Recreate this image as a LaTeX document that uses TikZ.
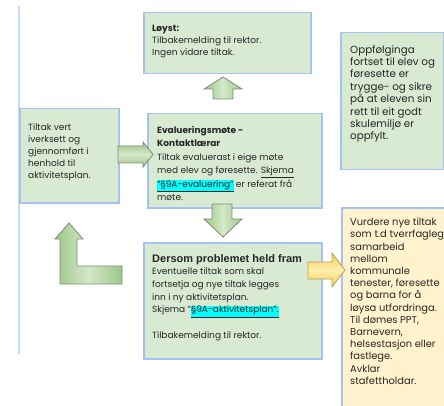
\documentclass[tikz,border=0pt]{standalone}
\usepackage{fontspec}
\setmainfont{Poppins}
\newfontfamily\headfont{Liberation Sans}
\usepackage{xcolor}
\definecolor{boxfill}{HTML}{D9EAD3}
\definecolor{boxline}{HTML}{A4C2F4}
\definecolor{yelfill}{HTML}{FFF2CC}
\definecolor{sideline}{HTML}{C9DAF8}
\definecolor{txtc}{HTML}{262626}
\definecolor{arrline}{HTML}{7A8F74}
\definecolor{garrA}{HTML}{9DC788}
\definecolor{garrB}{HTML}{D3E8C9}
\definecolor{yarrA}{HTML}{F2C94C}
\definecolor{yarrB}{HTML}{FFEFB0}
\definecolor{yarrline}{HTML}{B8A05A}
\definecolor{hlcyan}{HTML}{00FFFF}
\newcommand\hlc[1]{{\setlength{\fboxsep}{0pt}\colorbox{hlcyan}{\underline{#1}}}}
\begin{document}
\begin{tikzpicture}[x=1pt,y=-1pt,
  gbox/.style={draw=boxline, line width=1.5pt, fill=boxfill, rectangle, inner sep=0pt, anchor=north west},
  ybox/.style={draw=boxline, line width=1.5pt, fill=yelfill, rectangle, inner sep=0pt, anchor=north west},
  txt/.style={align=left, inner sep=0pt, anchor=north west, text=txtc, font=\fontsize{9}{12}\selectfont},
  gvert/.style={draw=arrline, line width=0.8pt, left color=garrA, right color=garrA, middle color=garrB},
  ghor/.style={draw=arrline, line width=0.8pt, top color=garrA, bottom color=garrA, middle color=garrB},
  yhor/.style={draw=yarrline, line width=0.8pt, top color=yarrA, bottom color=yarrA, middle color=yarrB}
]
\useasboundingbox (0,0) rectangle (444,406);
% side line
\coordinate (sideTop) at (19,6);
\coordinate (sideBot) at (19,354);
\draw[sideline, line width=1.2pt] (sideTop) -- (sideBot);
% boxes
\node[gbox, minimum width=167pt, minimum height=61pt] (lost) at (143,12) {};
\node[gbox, minimum width=99pt, minimum height=94pt] (tiltak) at (19,108) {};
\node[gbox, minimum width=174pt, minimum height=94pt] (eval) at (147,113) {};
\node[gbox, minimum width=103pt, minimum height=137pt] (opp) at (340,32) {};
\node[gbox, minimum width=178pt, minimum height=116pt] (dersom) at (143,242) {};
\node[ybox, minimum width=110pt, minimum height=210pt] (vurd) at (341,207) {};
% block arrows
\draw[gvert] (223,77) -- (242,89) -- (233,89) -- (233,99) -- (213,99) -- (213,89) -- (204,89) -- cycle;
\draw[gvert] (223,237) -- (242,219) -- (232,219) -- (232,204) -- (212,204) -- (212,219) -- (204,219) -- cycle;
\draw[ghor] (153,154.5) -- (143,142) -- (143,146) -- (118,146) -- (118,163) -- (143,163) -- (143,167) -- cycle;
\draw[yhor] (345,270) -- (332,253) -- (332,262) -- (308,262) -- (308,279) -- (332,279) -- (332,287) -- cycle;
\draw[gvert] (69,223) -- (83,239) -- (77,239) -- (77,266) -- (122,266) -- (122,284) -- (60,284) -- (60,239) -- (55,239) -- cycle;
% texts
\node[txt] (lostT) at (152,25) {\textbf{Løyst:}\\Tilbakemelding til rektor.\\Ingen vidare tiltak.};
\node[txt] (tiltakT) at (28,123) {Tiltak vert\\iverksett og\\gjennomført i\\henhold til\\aktivitetsplan.};
\node[txt, font=\fontsize{9}{13.4}\selectfont] (evalT) at (157,126) {\textbf{Evalueringsmøte -}\\\textbf{Kontaktlærar}\\Tiltak evaluerast i eige møte\\med elev og føresette. \underline{Skjema}\\\hlc{“§9A-evaluering”} er referat frå\\møte.};
\node[txt, font=\fontsize{10.3}{12.4}\selectfont] (oppT) at (350,45) {Oppfølginga\\fortset til elev og\\føresette er\\trygge- og sikre\\på at eleven sin\\rett til eit godt\\skulemiljø er\\oppfylt.};
\node[txt, font=\fontsize{9}{12.7}\selectfont] (dersomT) at (152,254) {{\headfont\bfseries\fontsize{11}{12.7}\selectfont Dersom problemet held fram}\\Eventuelle tiltak som skal\\fortsetja og nye tiltak legges\\inn i ny aktivitetsplan.\\Skjema “\hlc{§9A-aktivitetsplan”.}\\[12.7pt]Tilbakemelding til rektor.};
\node[txt, font=\fontsize{9.9}{12.2}\selectfont] (vurdT) at (350,218) {Vurdere nye tiltak\\som t.d tverrfagleg\\samarbeid\\mellom\\kommunale\\tenester, føresette\\og barna for å\\løysa utfordringa.\\Til dømes PPT,\\Barnevern,\\helsestasjon eller\\fastlege.\\Avklar\\stafettholdar.};
\end{tikzpicture}
\end{document}
